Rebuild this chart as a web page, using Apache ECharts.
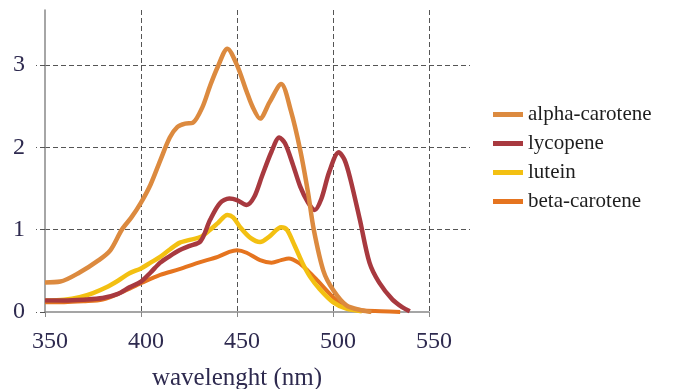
<!DOCTYPE html>
<html>
<head>
<meta charset="utf-8">
<script src="https://cdn.jsdelivr.net/npm/echarts@6/dist/echarts.min.js"></script>
<style>
  html, body { margin: 0; padding: 0; background: #fff; }
  #chart { width: 688px; height: 389px; }
</style>
</head>
<body>
<div id="chart"></div>
<script>
// absorbance spectra
var alphaNm  = [350, 358, 368, 378, 384, 390, 395, 400, 405, 410, 415, 419, 423, 427, 432, 436, 440, 445, 450, 455, 458, 462, 467, 473, 478, 483, 487, 490, 495, 500, 507, 515, 520];
var alphaVal = [0.36, 0.37, 0.48, 0.63, 0.75, 1.0, 1.15, 1.33, 1.55, 1.84, 2.12, 2.25, 2.29, 2.3, 2.49, 2.75, 2.98, 3.2, 3.0, 2.68, 2.5, 2.35, 2.55, 2.77, 2.45, 1.96, 1.45, 1.0, 0.5, 0.27, 0.08, 0.02, 0];

var lycoNm  = [350, 360, 370, 380, 388, 394, 400, 405, 410, 415, 420, 425, 431, 436, 441, 446, 450, 455, 459, 463, 468, 472, 475, 479, 483, 487, 490.5, 494, 498, 503, 506, 509, 514, 519, 524, 531, 536, 540];
var lycoVal = [0.14, 0.14, 0.15, 0.17, 0.22, 0.3, 0.37, 0.48, 0.6, 0.68, 0.75, 0.8, 0.86, 1.12, 1.32, 1.38, 1.36, 1.3, 1.4, 1.65, 1.95, 2.12, 2.05, 1.8, 1.52, 1.33, 1.24, 1.38, 1.7, 1.94, 1.85, 1.62, 1.12, 0.6, 0.36, 0.15, 0.06, 0.01];

var luteinNm  = [350, 360, 368, 375, 382, 388, 394, 400, 405, 410, 415, 420, 426, 431, 436, 440, 445, 448, 452, 457, 462, 467, 473, 476, 479, 484, 488, 493, 500, 507, 515];
var luteinVal = [0.14, 0.15, 0.18, 0.23, 0.3, 0.38, 0.47, 0.53, 0.6, 0.67, 0.76, 0.84, 0.88, 0.91, 1.0, 1.08, 1.18, 1.15, 1.02, 0.9, 0.85, 0.92, 1.03, 1.0, 0.86, 0.6, 0.43, 0.28, 0.12, 0.04, 0.01];

var betaNm  = [350, 360, 370, 380, 390, 400, 410, 420, 430, 440, 446, 450, 455, 462, 468, 473, 477, 482, 487, 492, 500, 506, 515, 525, 535];
var betaVal = [0.12, 0.12, 0.13, 0.15, 0.24, 0.35, 0.45, 0.52, 0.6, 0.67, 0.73, 0.75, 0.72, 0.63, 0.6, 0.63, 0.65, 0.6, 0.5, 0.38, 0.18, 0.07, 0.02, 0.01, 0];

var seriesNames = ['alpha-carotene', 'lycopene', 'lutein', 'beta-carotene'];
var xTicks = [350, 550, 50];
var yTicks = [0, 3.67, 1];

function pairs(xs, ys) {
    var res = [];
    for (var i = 0; i < xs.length; i++) res.push([xs[i], ys[i]]);
    return res;
}

var myChart = echarts.init(document.getElementById('chart'));

var labelColor = '#2e2a4f';
var dashStyle = { color: '#555', width: 1, type: [5, 3] };

var option = {
    animation: false,
    textStyle: { fontFamily: 'Liberation Serif' },
    grid: [
        { left: 45, top: 10, width: 384, height: 302, outerBoundsMode: 'none' },
        { left: 45, top: 10, width: 425, height: 302, outerBoundsMode: 'none' }
    ],
    legend: {
        orient: 'vertical',
        left: 488,
        top: 99,
        itemWidth: 30,
        itemHeight: 5,
        itemGap: 8,
        icon: 'rect',
        data: seriesNames,
        textStyle: { fontFamily: 'Liberation Serif', fontSize: 21, color: '#1e1e1e' }
    },
    xAxis: [
        {
            type: 'value', gridIndex: 0,
            min: xTicks[0], max: xTicks[1], interval: xTicks[2],
            name: 'wavelenght (nm)',
            nameLocation: 'middle',
            nameGap: 54,
            nameTextStyle: { fontFamily: 'Liberation Serif', fontSize: 25, color: labelColor },
            axisLine: { lineStyle: { color: '#888', width: 1.5 } },
            axisTick: { length: 5, lineStyle: { color: '#888' } },
            axisLabel: { fontFamily: 'Liberation Serif', fontSize: 24, color: labelColor, margin: 18, padding: [0, 0, 0, 10] },
            splitLine: { show: true, showMinLine: false, lineStyle: dashStyle }
        },
        { type: 'value', gridIndex: 1, min: 0, max: 1, show: false }
    ],
    yAxis: [
        {
            type: 'value', gridIndex: 0,
            min: yTicks[0], max: yTicks[1], interval: yTicks[2],
            axisLine: { show: true, lineStyle: { color: '#888', width: 1.5 } },
            axisTick: { show: true, length: 9, lineStyle: dashStyle },
            axisLabel: {
                fontFamily: 'Liberation Serif', fontSize: 24, color: labelColor, margin: 20,
                showMaxLabel: false,
                formatter: function (v) { return Number.isInteger(v) ? String(v) : ''; }
            },
            splitLine: { show: false }
        },
        {
            type: 'value', gridIndex: 1,
            min: yTicks[0], max: yTicks[1], interval: yTicks[2],
            axisLine: { show: false },
            axisTick: { show: false },
            axisLabel: { show: false },
            splitLine: { show: true, showMinLine: false, showMaxLine: false, lineStyle: dashStyle }
        }
    ],
    series: [
        {
            name: 'beta-carotene', type: 'line', xAxisIndex: 0, yAxisIndex: 0,
            data: pairs(betaNm, betaVal), smooth: 0.3, showSymbol: false,
            color: '#e5741f', lineStyle: { width: 4 }
        },
        {
            name: 'lutein', type: 'line', xAxisIndex: 0, yAxisIndex: 0,
            data: pairs(luteinNm, luteinVal), smooth: 0.3, showSymbol: false,
            color: '#f3c012', lineStyle: { width: 4.5 }
        },
        {
            name: 'lycopene', type: 'line', xAxisIndex: 0, yAxisIndex: 0,
            data: pairs(lycoNm, lycoVal), smooth: 0.3, showSymbol: false,
            color: '#a8393f', lineStyle: { width: 4.5 }
        },
        {
            name: 'alpha-carotene', type: 'line', xAxisIndex: 0, yAxisIndex: 0,
            data: pairs(alphaNm, alphaVal), smooth: 0.3, showSymbol: false,
            color: '#dc8a3f', lineStyle: { width: 4.5 }
        }
    ]
};

myChart.setOption(option);
window.addEventListener('resize', function () {
    myChart.resize();
});
</script>
</body>
</html>
